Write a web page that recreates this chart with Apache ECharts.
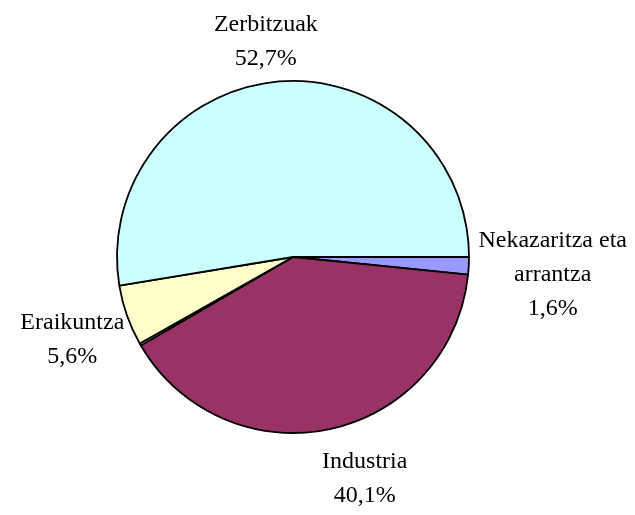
<!DOCTYPE html>
<html>
<head>
<meta charset="utf-8">
<script src="https://cdn.jsdelivr.net/npm/echarts@6/dist/echarts.min.js"></script>
<style>
  html, body { margin: 0; padding: 0; background: #fff; }
  #chart { width: 635px; height: 515px; }
</style>
</head>
<body>
<div id="chart"></div>
<script>
// sektoreak, erlojuaren norantzan ekialdetik hasita
const names = ["Nekazaritza eta\narrantza", "Industria", "", "Eraikuntza", "Zerbitzuak"];
const values = [1.6, 40.1, 0.2, 5.6, 52.7];
const colors = ["#9999FF", "#993366", "#F2F2F2", "#FFFFCC", "#CCFFFF"];

const cx = 293, cy = 257, R = 176;
const labelR = 235;
// etiketen doikuntza txikiak (px)
const nudge = [[25, 6], [22, -8], [0, 0], [1, 5], [-8, 19]];

const total = values.reduce((a, b) => a + b, 0);
const midAngle = (i) => {
  let before = 0;
  for (let k = 0; k < i; k++) before += values[k];
  return ((before + values[i] / 2) / total) * 2 * Math.PI;
};

const chart = echarts.init(document.getElementById("chart"));

chart.setOption({
  animation: false,
  backgroundColor: "#fff",
  series: [
    {
      type: "pie",
      center: [cx, cy],
      radius: R,
      startAngle: 0,
      clockwise: true,
      avoidLabelOverlap: false,
      itemStyle: { borderColor: "#000", borderWidth: 1.8 },
      label: {
        show: true,
        position: "outside",
        fontFamily: "Liberation Serif",
        fontSize: 24,
        lineHeight: 34,
        color: "#000",
        align: "center",
        formatter: (p) => p.name + "\n" + p.value.toFixed(1).replace(".", ",") + "%",
      },
      labelLine: { show: false },
      labelLayout: (p) => {
        const a = midAngle(p.dataIndex);
        return {
          x: cx + labelR * Math.cos(a) + nudge[p.dataIndex][0],
          y: cy + labelR * Math.sin(a) + nudge[p.dataIndex][1],
          align: "center",
          verticalAlign: "middle",
        };
      },
      data: values.map((v, i) => ({
        name: names[i],
        value: v,
        itemStyle: { color: colors[i] },
        label: { show: names[i] !== "" },
      })),
    },
  ],
});
</script>
</body>
</html>
